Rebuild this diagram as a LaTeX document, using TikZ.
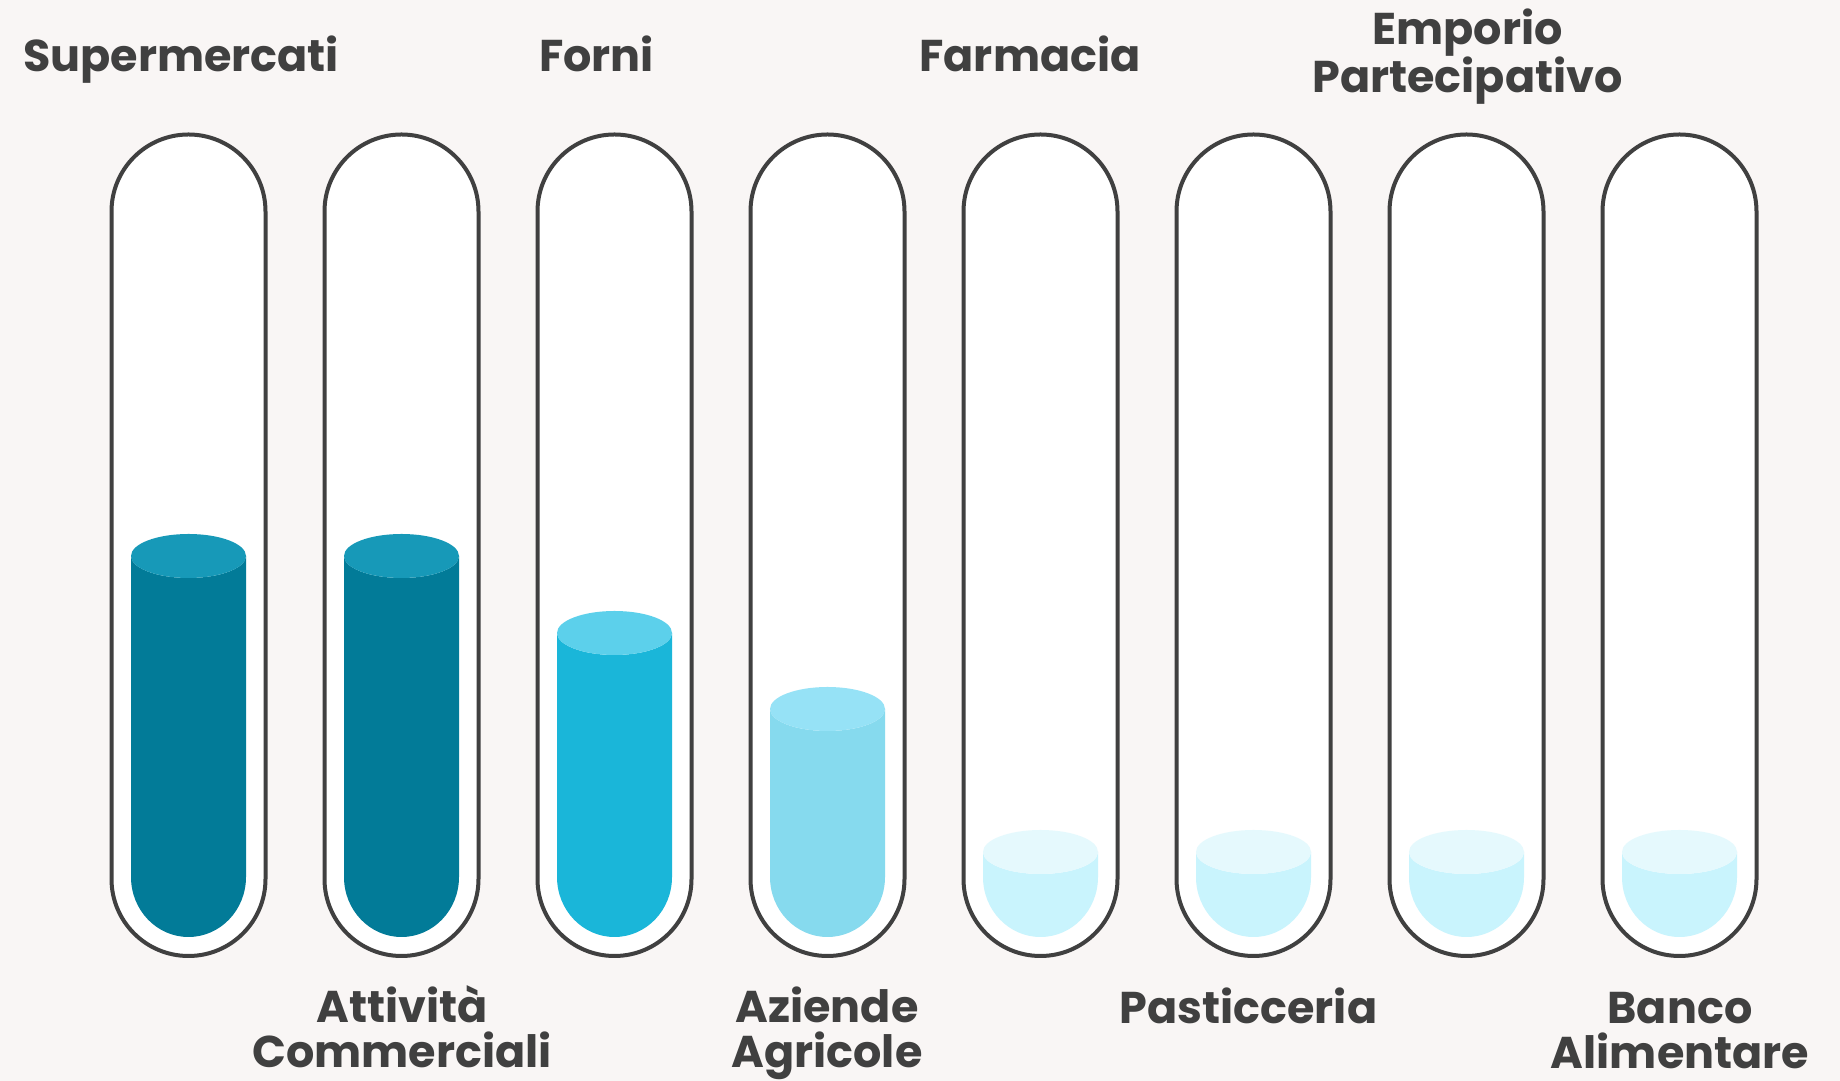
\documentclass[tikz,border=0pt]{standalone}
\usepackage{fontspec}
\setmainfont{Poppins}
\usepackage{tikz}
\definecolor{bg}{HTML}{F9F6F5}
\definecolor{text}{HTML}{404040}
\definecolor{deep}{HTML}{027B98}
\definecolor{deepLid}{HTML}{1799B8}
\definecolor{mid}{HTML}{1AB6D9}
\definecolor{midLid}{HTML}{5CD0EB}
\definecolor{light}{HTML}{86DAEE}
\definecolor{lightLid}{HTML}{96E2F6}
\definecolor{pale}{HTML}{C9F4FD}
\definecolor{paleLid}{HTML}{E5F9FD}
\tikzset{
  lab/.style={text=text, font=\fontsize{44.5}{45}\selectfont\bfseries, align=center, anchor=base, inner sep=0pt},
  tubeLine/.style={line width=4pt, draw=text, fill=white}
}
\begin{document}
\begin{tikzpicture}[x=1pt,y=1pt]
\useasboundingbox (0,0) rectangle (1840,1081);
\fill[bg] (0,0) rectangle (1840,1081);
\foreach \cx/\lv/\fillc/\lidc [count=\i] in {188.5/525/deep/deepLid, 401.5/525/deep/deepLid,
  614.5/448/mid/midLid, 827.5/372/light/lightLid, 1040.5/229/pale/paleLid,
  1253.5/229/pale/paleLid, 1466.5/229/pale/paleLid, 1679.5/229/pale/paleLid}{
  \draw[tubeLine] (\cx-77,869.5) arc[start angle=180,end angle=0,radius=77]
    -- (\cx+77,202) arc[start angle=0,end angle=-180,radius=77] -- cycle;
  \fill[\fillc] (\cx-57.5,\lv) -- (\cx-57.5,204)
    arc[start angle=180,end angle=360,x radius=57.5,y radius=60]
    -- (\cx+57.5,\lv) arc[start angle=0,end angle=-180,x radius=57.5,y radius=22] -- cycle;
  \fill[\lidc] (\cx,\lv) ellipse[x radius=57.5,y radius=22];
}
\node[lab] (super) at (181,1009) {Supermercati};
\node[lab] (forni) at (596.5,1009) {Forni};
\node[lab] (farma) at (1030,1009) {Farmacia};
\node[lab] (emporio) at (1467.5,988) {Emporio\\Partecipativo};
\node[lab] (attiv) at (402,13) {Attività\\Commerciali};
\node[lab] (aziende) at (827,13) {Aziende\\Agricole};
\node[lab] (pastic) at (1248.5,57) {Pasticceria};
\node[lab] (banco) at (1680,12) {Banco\\Alimentare};
\end{tikzpicture}
\end{document}
